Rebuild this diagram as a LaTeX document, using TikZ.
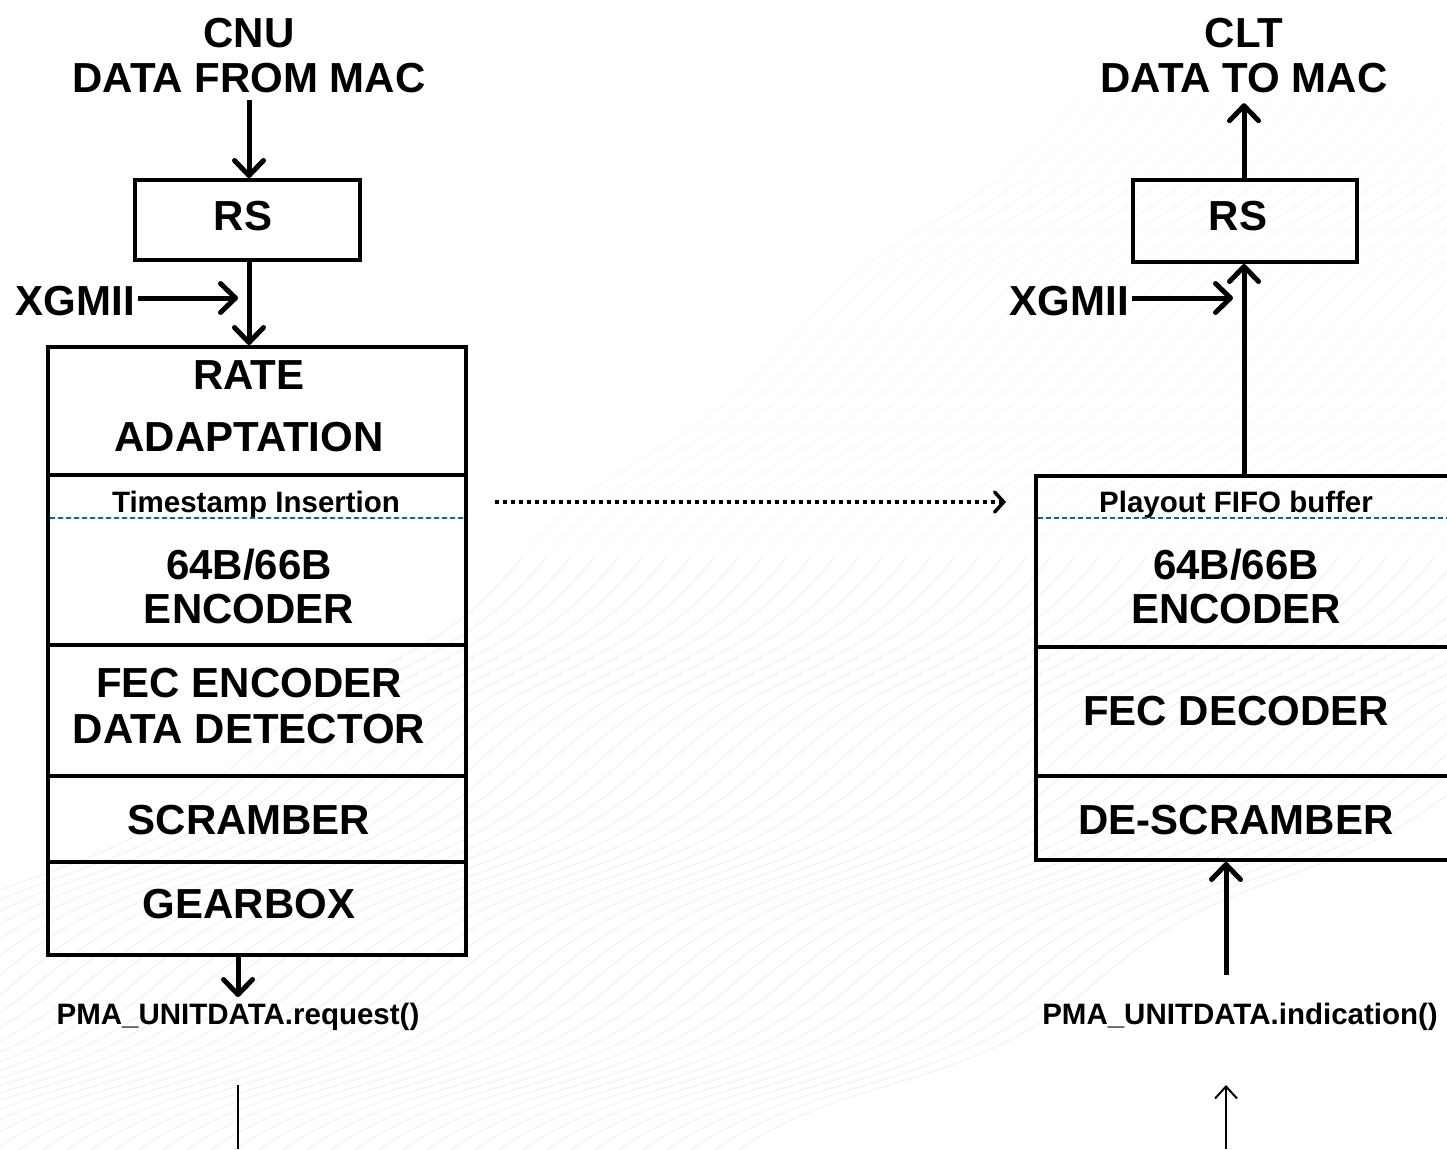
\documentclass[tikz,border=0pt]{standalone}
\usepackage{fontspec}
\setmainfont{Liberation Sans}
\usetikzlibrary{arrows.meta}
\definecolor{tealdash}{RGB}{30,100,112}
\tikzset{
  sec/.style={draw, line width=4pt, rectangle, inner sep=0pt},
  big/.style={font=\fontsize{42}{46}\selectfont\bfseries, inner sep=0pt, text height=30pt, text depth=0pt},
  small/.style={font=\fontsize{29.5}{32}\selectfont\bfseries, inner sep=0pt, text height=21pt, text depth=0pt},
  arr/.style={line width=5pt, -{Straight Barb[length=15pt,width=29pt,line cap=round,line join=round]}},
  thinarr/.style={line width=2pt, -{Straight Barb[length=12pt,width=22pt]}},
  dotarr/.style={line width=3.5pt, dash pattern=on 4pt off 4pt, -{Straight Barb[length=9pt,width=20pt,line cap=round]}},
  tline/.style={draw=tealdash, line width=1.6pt, dash pattern=on 5pt off 3pt},
  wm/.style={draw=black!6, line width=0.9pt},
  wm2/.style={draw=black!3, line width=0.9pt},
}
\begin{document}
\begin{tikzpicture}[x=1pt,y=-1pt]
\path[use as bounding box] (0,0) rectangle (1447,1149);
\clip (0,0) rectangle (1447,1149);
\fill[white] (0,0) rectangle (1447,1149);

% faint background watermark
\foreach \i in {0,...,52} {
  \draw[wm] ({-560+\i*24},1190) .. controls ({-420+\i*24},1060) and ({-300+\i*24},1110) .. ({-150+\i*24},980)
     .. controls ({0+\i*24},850) and ({90+\i*24},900) .. ({240+\i*24},760)
     .. controls ({360+\i*24},650) and ({420+\i*24},680) .. ({520+\i*24},560);
  \draw[wm2] ({520+\i*24},560) .. controls ({620+\i*24},440) and ({680+\i*24},470) .. ({800+\i*24},330)
     .. controls ({900+\i*24},210) and ({960+\i*24},240) .. ({1080+\i*24},100);
}

% ---------- left (CNU) ----------
\node[big] (cnu1) at (249,32) {CNU};
\node[big] (cnu) at (249,77) {DATA FROM MAC};
\node[sec, minimum width=225pt, minimum height=80pt] (rsl) at (247.5,220) {};
\node[big] (rslt) at (243,215) {RS};
\node[big, anchor=east] (xl) at (135,300) {XGMII};
\coordinate (xlend) at (238,298);

\node[sec, minimum width=418pt, minimum height=128pt] (rate) at (257,411) {};
\node[sec, minimum width=418pt, minimum height=170pt] (enc) at (257,560) {};
\node[sec, minimum width=418pt, minimum height=131pt] (fec) at (257,710.5) {};
\node[sec, minimum width=418pt, minimum height=86pt] (scr) at (257,819) {};
\node[sec, minimum width=418pt, minimum height=93pt] (gear) at (257,908.5) {};

\node[big] (t1) at (249,374) {RATE};
\node[big] (t2) at (249,436) {ADAPTATION};
\node[small] (ts) at (256,502) {Timestamp Insertion};
\coordinate (tsa) at (50,518);
\coordinate (tsb) at (464,518);
\draw[tline] (tsa) -- (tsb);
\node[big] (t3) at (249,564) {64B/66B};
\node[big] (t4) at (249,608) {ENCODER};
\node[big] (t5) at (249,682) {FEC ENCODER};
\node[big] (t6) at (249,728) {DATA DETECTOR};
\node[big] (t7) at (249,819) {SCRAMBER};
\node[big] (t8) at (249,903) {GEARBOX};
\node[small] (req) at (238,1014) {PMA\_UNITDATA.request()};
\coordinate (lla) at (238,1085);
\coordinate (llb) at (238,1149);

\draw[arr] (cnu.south) ++(0,8) -- (cnu.south |- rsl.north);
\draw[arr] (xl.east) ++(3,-2) -- (xlend);
\draw[arr] (rsl.south -| cnu) -- (cnu |- rate.north);
\draw[arr] (req |- gear.south) -- ++(0,40);
\draw[line width=2pt] (lla) -- (llb);

% ---------- right (CLT) ----------
\node[big] (clt1) at (1244,32) {CLT};
\node[big] (clt) at (1244,77) {DATA TO MAC};
\node[sec, minimum width=224pt, minimum height=82pt] (rsr) at (1245,221) {};
\node[big] (rsrt) at (1238,215) {RS};
\node[big, anchor=east] (xr) at (1129,300) {XGMII};
\coordinate (xrend) at (1233,298);

\node[sec, minimum width=424pt, minimum height=171pt] (renc) at (1248,561.5) {};
\node[sec, minimum width=424pt, minimum height=129pt] (rfec) at (1248,711.5) {};
\node[sec, minimum width=424pt, minimum height=84pt] (rdes) at (1248,818) {};

\node[small] (pf) at (1236,502) {Playout FIFO buffer};
\coordinate (pfa) at (1038,518);
\coordinate (pfb) at (1447,518);
\draw[tline] (pfa) -- (pfb);
\node[big] (r3) at (1236,564) {64B/66B};
\node[big] (r4) at (1236,608) {ENCODER};
\node[big] (r5) at (1236,710) {FEC DECODER};
\node[big] (r6) at (1236,819) {DE-SCRAMBER};
\node[small] (ind) at (1240,1014) {PMA\_UNITDATA.indication()};
\coordinate (rba) at (1226,975);
\coordinate (rla) at (1226,1149);
\coordinate (rlb) at (1226,1085);

\draw[arr] (rsr.north -| clt) -- ([yshift=-11pt]clt.south);
\draw[arr] (xr.east) ++(3,-2) -- (xrend);
\draw[arr] (clt |- renc.north) -- (clt |- rsr.south);
\draw[arr] (rba) -- (rba |- rdes.south);
\draw[thinarr] (rla) -- (rlb);

% ---------- dotted link ----------
\coordinate (da) at (495,502);
\coordinate (db) at (1006,502);
\draw[dotarr] (da) -- (db);
\end{tikzpicture}
\end{document}
